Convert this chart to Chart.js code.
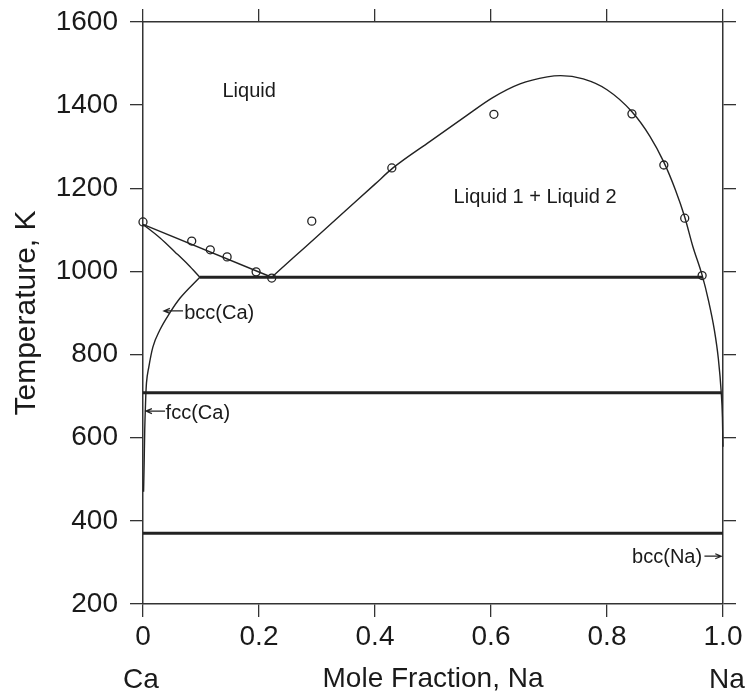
<!DOCTYPE html>
<html><head><meta charset="utf-8">
<script src="https://cdn.jsdelivr.net/npm/chart.js@4.4.1/dist/chart.umd.min.js"></script>
<style>html,body{margin:0;padding:0;background:#fff;}#wrap{width:749px;height:698px;}</style>
</head><body><div id="wrap"><canvas id="c" width="749" height="698"></canvas></div>
<script>
// ---- data ----
const xTicks = [0, 0.2, 0.4, 0.6, 0.8, 1.0];
const xTickLabels = ['0', '0.2', '0.4', '0.6', '0.8', '1.0'];
const yTicks = [200, 400, 600, 800, 1000, 1200, 1400, 1600];
const yTickLabels = ['200', '400', '600', '800', '1000', '1200', '1400', '1600'];

// phase boundaries [x (mole fraction Na), T (K)]
const liquidusCa = [[0, 1113], [0.222, 986]];
const solidusBccCa = [[0, 1113], [0.029, 1081], [0.055, 1047], [0.078, 1016], [0.098, 986]];
const solvusBccCa = [[0.005, 708], [0.006, 732], [0.010, 770], [0.017, 818], [0.029, 859], [0.047, 902], [0.064, 936], [0.098, 986]];
const solvusFccCa = [[0.001, 470], [0.002, 540], [0.003, 620], [0.005, 708]];
const monotectic = [[0.098, 986], [0.965, 986]];
const transformation = [[0, 708], [0.997, 708]];
const naMelting = [[0, 370], [1.0, 370]];
const miscibilityGap = [[0.222, 986], [0.26, 1034], [0.30, 1084], [0.35, 1147], [0.40, 1210], [0.431, 1249],
  [0.495, 1313], [0.559, 1376], [0.603, 1418], [0.65, 1451], [0.697, 1468], [0.72, 1471], [0.759, 1463],
  [0.80, 1437], [0.843, 1384], [0.874, 1325], [0.898, 1263], [0.918, 1196], [0.934, 1131], [0.948, 1060],
  [0.964, 991], [0.975, 930], [0.985, 860], [0.992, 790], [0.997, 708], [0.999, 650], [1.0, 578]];
const experimental = [[0, 1119], [0.084, 1073], [0.116, 1052], [0.145, 1035], [0.195, 999], [0.222, 984],
  [0.291, 1121], [0.429, 1249], [0.605, 1378], [0.843, 1379], [0.898, 1256], [0.934, 1128], [0.964, 990]];

// region labels (data coordinates)
const regionLabels = [
  {text: 'Liquid', x: 0.183, y: 1434, align: 'center'},
  {text: 'Liquid 1 + Liquid 2', x: 0.676, y: 1177, align: 'center'},
  {text: 'bcc(Ca)', x: 0.071, y: 900, align: 'left'},
  {text: 'fcc(Ca)', x: 0.039, y: 659, align: 'left'},
  {text: 'bcc(Na)', x: 0.964, y: 313, align: 'right'}
];
const arrows = [
  {x1: 0.069, x2: 0.036, y: 905},
  {x1: 0.038, x2: 0.005, y: 664},
  {x1: 0.968, x2: 0.997, y: 315}
];

// ---- chart ----
const FONT = '"Liberation Sans", Arial, Helvetica, sans-serif';
const INK = '#1a1a1a';
const LINE = '#222';
Chart.defaults.font.family = FONT;
Chart.defaults.color = INK;

const pts = a => a.map(p => ({x: p[0], y: p[1]}));
const thin = (d) => ({data: pts(d), showLine: true, borderColor: LINE, borderWidth: 1.4, pointRadius: 0,
  cubicInterpolationMode: 'monotone', fill: false, xAxisID: 'x', yAxisID: 'y', clip: 3});
const thick = (d) => ({data: pts(d), showLine: true, borderColor: LINE, borderWidth: 3, pointRadius: 0, fill: false,
  xAxisID: 'x', yAxisID: 'y', clip: 3});

const annot = {
  id: 'annot',
  afterDatasetsDraw(chart) {
    const {ctx, scales: {x, y}} = chart;
    ctx.save();
    ctx.fillStyle = INK;
    ctx.font = '20px ' + FONT;
    ctx.textBaseline = 'middle';
    for (const l of regionLabels) {
      ctx.textAlign = l.align;
      ctx.fillText(l.text, x.getPixelForValue(l.x), y.getPixelForValue(l.y));
    }
    ctx.strokeStyle = LINE;
    ctx.lineWidth = 1.2;
    for (const a of arrows) {
      const X1 = x.getPixelForValue(a.x1), X2 = x.getPixelForValue(a.x2), Y = y.getPixelForValue(a.y);
      const dir = Math.sign(X2 - X1);
      ctx.beginPath();
      ctx.moveTo(X1, Y); ctx.lineTo(X2, Y);
      ctx.moveTo(X2 - dir * 6, Y - 2.5); ctx.lineTo(X2, Y); ctx.lineTo(X2 - dir * 6, Y + 2.5);
      ctx.stroke();
    }
    // composition end-member labels
    ctx.font = '28px ' + FONT;
    ctx.textAlign = 'center';
    const yb = chart.height - 18;
    ctx.fillText('Ca', x.getPixelForValue(0) - 2, yb);
    ctx.fillText('Na', x.getPixelForValue(1) + 4, yb);
    ctx.restore();
  }
};

const gridOpts = {drawOnChartArea: false, drawTicks: true, tickLength: 13, color: '#333', lineWidth: 1.3};
const borderOpts = {display: true, color: '#333', width: 1.5};
const setTicks = (arr) => (s) => { s.ticks = arr.map(v => ({value: v})); };

new Chart(document.getElementById('c'), {
  type: 'scatter',
  data: {
    datasets: [
      thin(liquidusCa), thin(solidusBccCa), thin(solvusBccCa), thin(solvusFccCa), thin(miscibilityGap),
      thick(monotectic), thick(transformation), thick(naMelting),
      {data: pts(experimental), showLine: false, pointRadius: 4, pointBorderWidth: 1.3, pointBorderColor: LINE,
        pointBackgroundColor: 'rgba(0,0,0,0)', pointHoverRadius: 4, xAxisID: 'x', yAxisID: 'y', clip: false}
    ]
  },
  options: {
    responsive: false, animation: false, devicePixelRatio: 1,
    layout: {padding: 0},
    plugins: {legend: {display: false}, tooltip: {enabled: false}},
    events: [],
    scales: {
      x: {type: 'linear', position: 'bottom', min: 0, max: 1,
        afterBuildTicks: setTicks(xTicks),
        ticks: {callback: v => xTickLabels[xTicks.indexOf(v)], font: {size: 28}, color: INK, padding: 3, maxRotation: 0, autoSkip: false},
        grid: gridOpts, border: borderOpts,
        title: {display: true, text: 'Mole Fraction, Na', font: {size: 28}, color: INK, padding: {top: 0, bottom: 2}},
        afterFit: s => { s.height = 94; s.paddingLeft = 0; s.paddingRight = 0; }},
      x2: {type: 'linear', position: 'top', min: 0, max: 1,
        afterBuildTicks: setTicks(xTicks), ticks: {display: false},
        grid: gridOpts, border: borderOpts,
        afterFit: s => { s.height = 22; s.paddingLeft = 0; s.paddingRight = 0; }},
      y: {type: 'linear', position: 'left', min: 200, max: 1600,
        afterBuildTicks: setTicks(yTicks),
        ticks: {callback: v => yTickLabels[yTicks.indexOf(v)], font: {size: 28}, color: INK, padding: 12, autoSkip: false},
        grid: gridOpts, border: borderOpts,
        title: {display: true, text: 'Temperature, K', font: {size: 30}, color: INK, padding: {top: 9, bottom: 0}},
        afterFit: s => { s.width = 143; s.paddingTop = 0; s.paddingBottom = 0; }},
      y2: {type: 'linear', position: 'right', min: 200, max: 1600,
        afterBuildTicks: setTicks(yTicks), ticks: {display: false},
        grid: gridOpts, border: borderOpts,
        afterFit: s => { s.width = 26; s.paddingTop = 0; s.paddingBottom = 0; }}
    }
  },
  plugins: [annot]
});
</script>
</body></html>
